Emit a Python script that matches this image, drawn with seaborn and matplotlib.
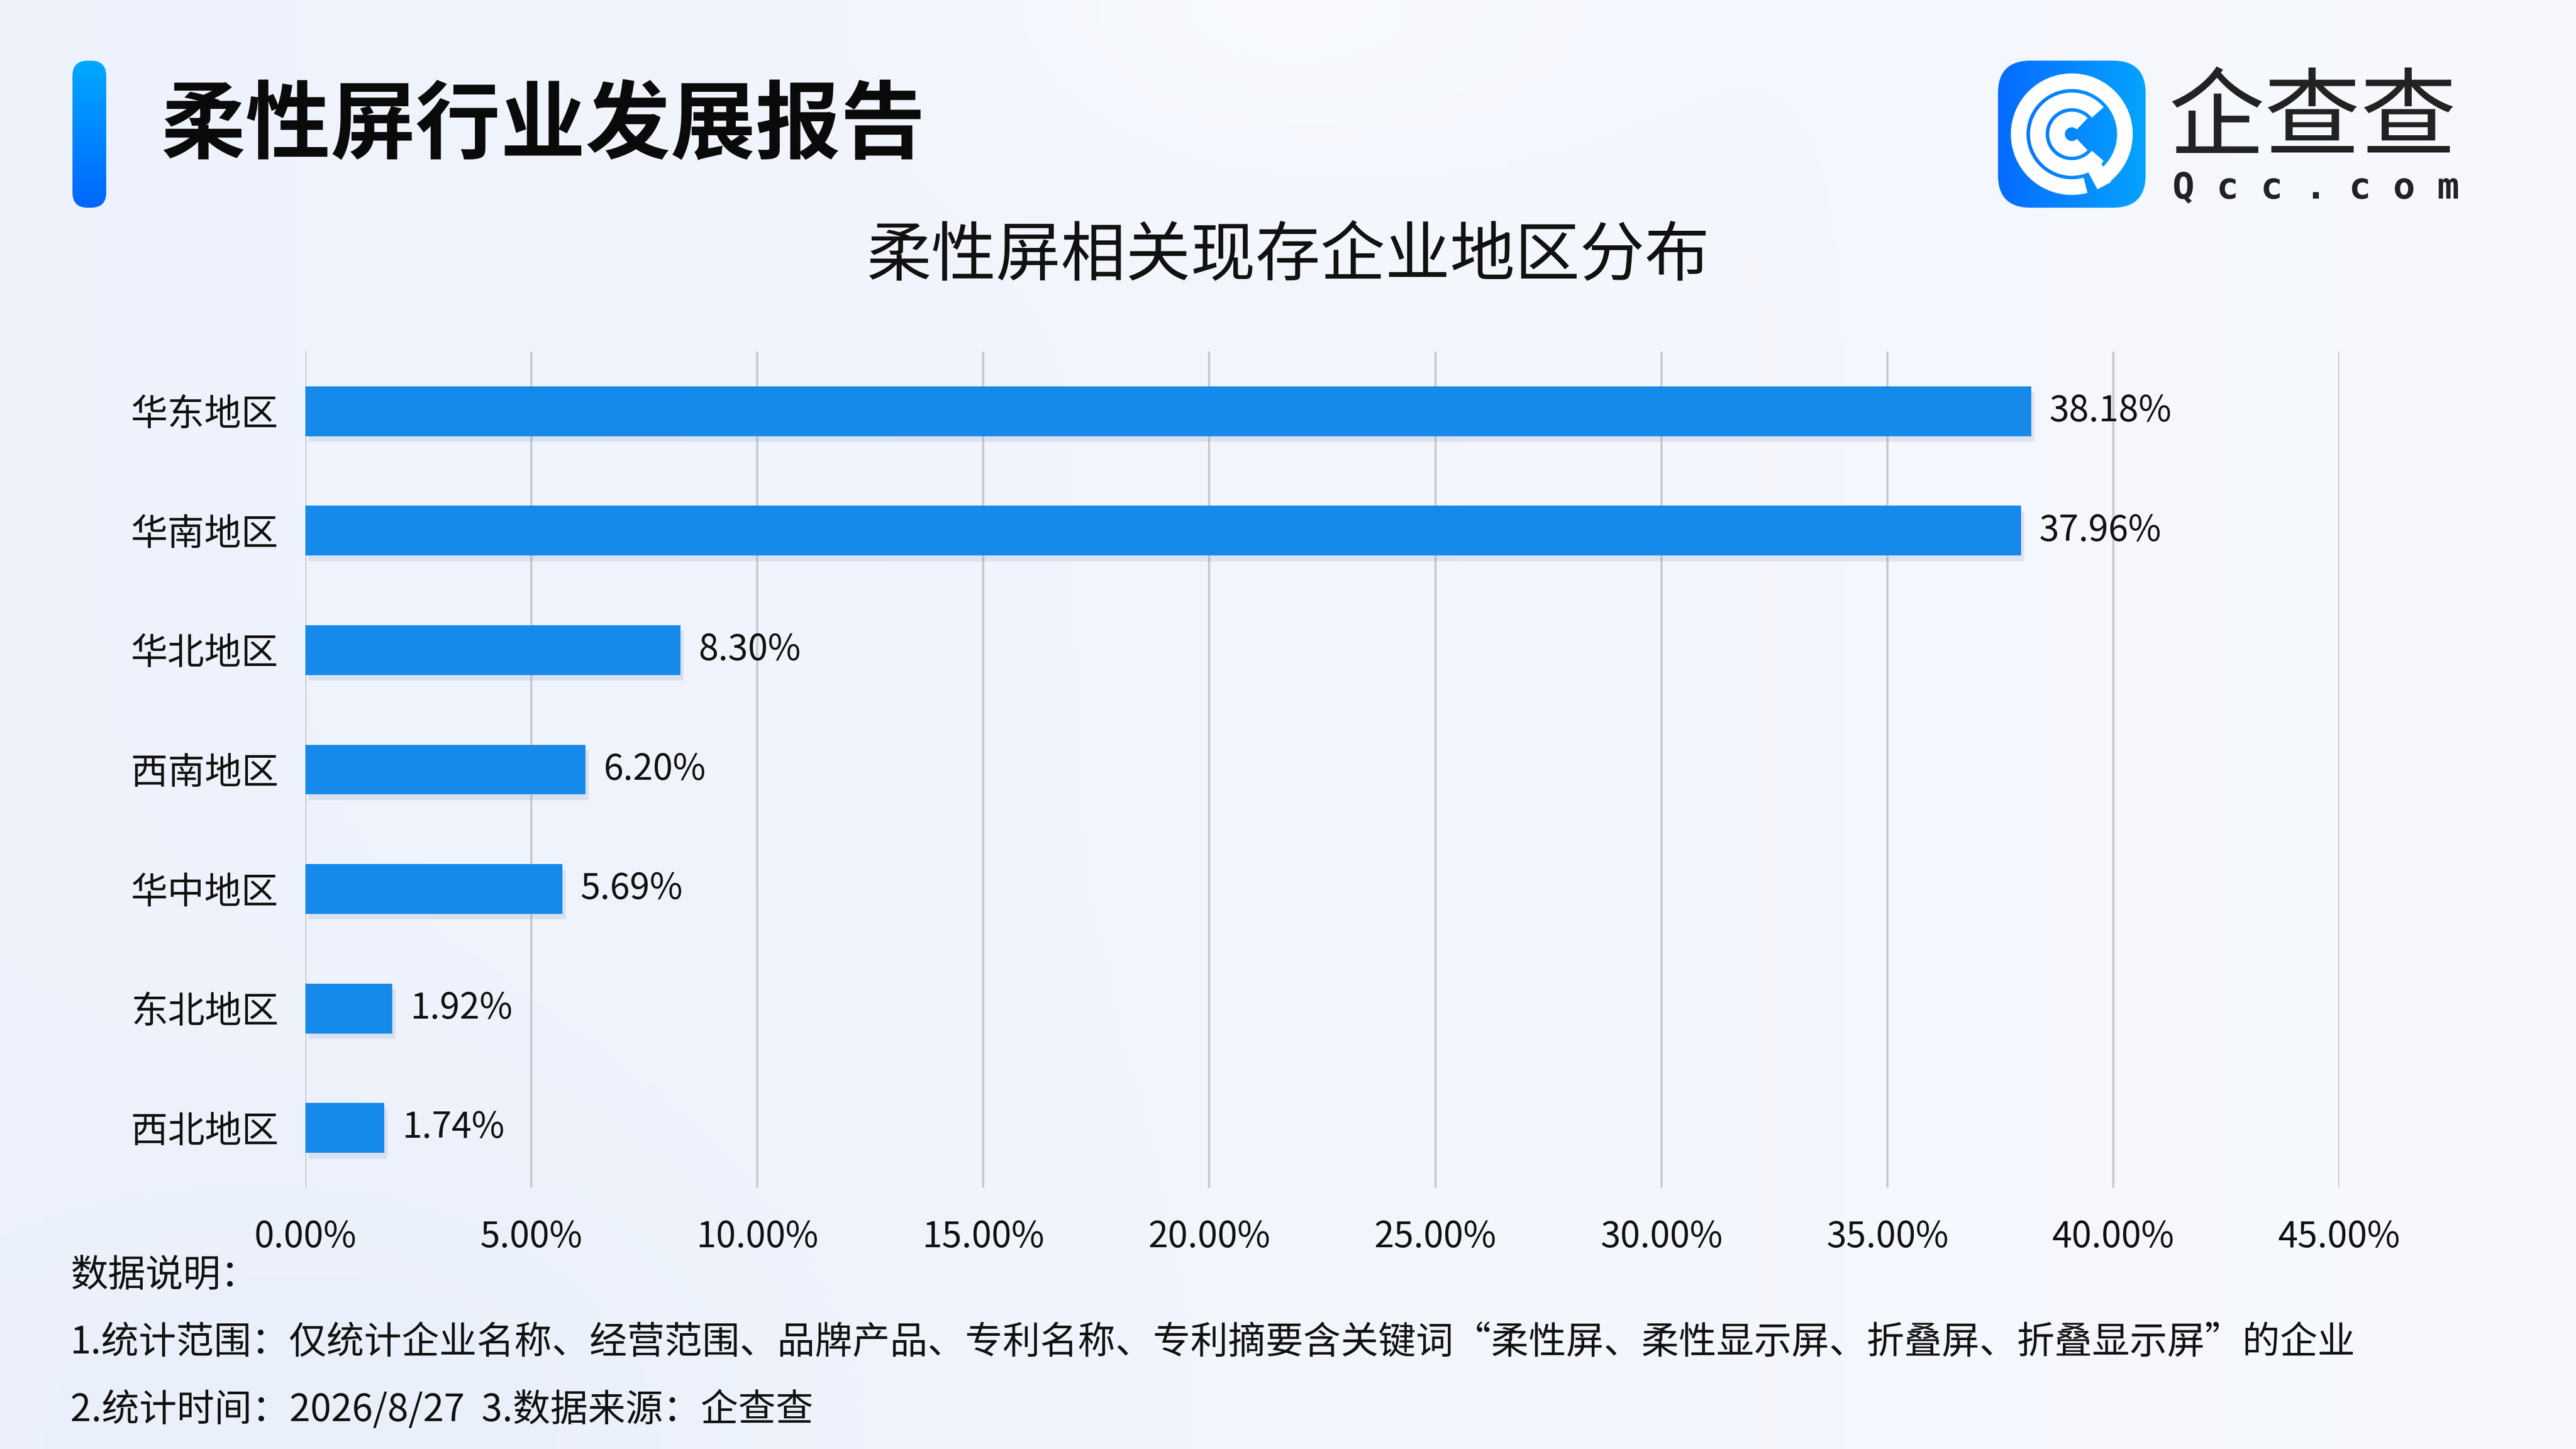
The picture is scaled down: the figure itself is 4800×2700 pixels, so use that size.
import numpy as np
import matplotlib
matplotlib.use('Agg')
import matplotlib.pyplot as plt
import seaborn as sns
from matplotlib.patches import FancyBboxPatch, Arc
from matplotlib import patheffects as pe

# ---------- data ----------
regions = ['华东地区', '华南地区', '华北地区', '西南地区', '华中地区', '东北地区', '西北地区']
shares = [38.18, 37.96, 8.30, 6.20, 5.69, 1.92, 1.74]
xticks = [0, 5, 10, 15, 20, 25, 30, 35, 40, 45]

main_title = '柔性屏行业发展报告'
chart_title = '柔性屏相关现存企业地区分布'
notes = ['数据说明：',
         '1.统计范围：仅统计企业名称、经营范围、品牌产品、专利名称、专利摘要含关键词“柔性屏、柔性显示屏、折叠屏、折叠显示屏”的企业',
         '2.统计时间：2026/8/27  3.数据来源：企查查']

BAR = '#168AEA'
W, H = 4800, 2700

sns.set_theme(style='white')
plt.rcParams['font.family'] = ['Noto Sans CJK SC', 'DejaVu Sans']

fig = plt.figure(figsize=(16, 9), dpi=300)

# ---------- background gradient ----------
bg = fig.add_axes([0, 0, 1, 1], zorder=-10)
gx, gy = np.meshgrid(np.linspace(0, 1, 480), np.linspace(0, 1, 270))
left_c = np.array([0.933, 0.950, 0.988])
right_c = np.array([0.968, 0.976, 0.994])
img = left_c + (right_c - left_c) * gx[..., None]
blob = np.exp(-(((gx - 0.5) / 0.12) ** 2 + ((gy - 0.0) / 0.12) ** 2))
img = img + (np.array([0.975, 0.982, 0.998]) - img) * blob[..., None] * 0.8
tint = np.exp(-(((gx - 0.15) / 0.2) ** 2 + ((gy - 1.0) / 0.25) ** 2))
img = img + (np.array([0.88, 0.92, 0.98]) - img) * tint[..., None] * 0.35
bg.imshow(np.clip(img, 0, 1), aspect='auto', extent=[0, 1, 1, 0])
bg.set_axis_off()

# ---------- accent bar next to title ----------
acc = fig.add_axes([135 / W, 1 - 387 / H, 63 / W, 274 / H])
grad = np.linspace(0, 1, 100)[:, None]
top_c, bot_c = np.array([0.0, 0.66, 1.0]), np.array([0.0, 0.40, 1.0])
acc_img = top_c + (bot_c - top_c) * grad[..., None]
im = acc.imshow(np.repeat(acc_img, 10, axis=1), aspect='auto', extent=[0, 1, 0, 1], origin='upper')
clip = FancyBboxPatch((0, 0), 1, 1, boxstyle='round,pad=0,rounding_size=0.45',
                      mutation_aspect=0.23, transform=acc.transData, facecolor='none', edgecolor='none')
acc.add_patch(clip)
im.set_clip_path(clip)
acc.set_xlim(0, 1)
acc.set_ylim(0, 1)
acc.set_axis_off()

fig.text(300 / W, 1 - 237 / H, main_title, fontsize=38, fontweight='heavy',
         color='#0a0a0a', va='center', ha='left')

# ---------- logo ----------
logo = fig.add_axes([3723 / W, 1 - 387 / H, 275 / W, 274 / H])
logo.set_xlim(0, 1)
logo.set_ylim(0, 1)
lg = np.linspace(0, 1, 100)[None, :]
lc1, lc2 = np.array([0.02, 0.42, 1.0]), np.array([0.02, 0.64, 1.0])
limg = lc1 + (lc2 - lc1) * lg[..., None]
lim = logo.imshow(np.repeat(limg, 10, axis=0), aspect='auto', extent=[0, 1, 0, 1])
lclip = FancyBboxPatch((0, 0), 1, 1, boxstyle='round,pad=0,rounding_size=0.22',
                       transform=logo.transData, facecolor='none', edgecolor='none')
logo.add_patch(lclip)
lim.set_clip_path(lclip)
for r, t1, t2, lw in [(0.72, 300, 285, 7), (0.46, 40, 320, 7), (0.2, 45, 315, 7)]:
    logo.add_patch(Arc((0.5, 0.5), r, r, theta1=t1, theta2=t2, color='white', lw=lw))
logo.plot([0.63, 0.72], [0.32, 0.15], color='white', lw=7, solid_capstyle='butt')
logo.set_axis_off()

fig.text(4040 / W, 1 - 276 / H, '企查查', fontsize=43, color='#222222', va='baseline', ha='left')
fig.text(4048 / W, 1 - 370 / H, 'Q c c . c o m', fontsize=16.4, fontweight='bold',
         color='#222222', va='baseline', ha='left', family='DejaVu Sans Mono')

# ---------- chart title ----------
fig.text(0.5, 1 - 480 / H, chart_title, fontsize=29, color='#111111', ha='center', va='center')

# ---------- bar chart ----------
ax = fig.add_axes([569 / W, 1 - 2213 / H, (4359 - 569) / W, (2213 - 655) / H])
ax.patch.set_alpha(0)
sns.barplot(x=shares, y=regions, orient='h', color=BAR, width=0.417,
            saturation=1, linewidth=0, ax=ax, zorder=3)
for p in ax.patches:
    p.set_linewidth(0)
    p.set_path_effects([pe.SimplePatchShadow(offset=(1.5, -2.5), shadow_rgbFace='#7a8bb0', alpha=0.18),
                        pe.Normal()])
ax.bar_label(ax.containers[0], labels=[f'{v:.2f}%' for v in shares],
             padding=8, fontsize=16, color='#111111')

ax.set_xlim(0, 45)
ax.set_ylim(6.5, -0.5)
ax.set_xticks(xticks)
ax.set_xticklabels([f'{t:.2f}%' for t in xticks])
ax.grid(axis='x', color='#c9cacf', lw=1.0, zorder=0)
ax.grid(axis='y', visible=False)
ax.set_axisbelow(True)
for s in ax.spines.values():
    s.set_visible(False)
ax.tick_params(axis='y', length=0, pad=12, labelsize=16.5, labelcolor='#111111')
ax.tick_params(axis='x', length=0, pad=14, labelsize=16, labelcolor='#111111')
ax.set_xlabel('')
ax.set_ylabel('')

# ---------- notes ----------
for txt, yy in zip(notes, [2377, 2503, 2628]):
    fig.text(131 / W, 1 - yy / H, txt, fontsize=16.8, color='#111111', va='center', ha='left')

fig.savefig('out.png', dpi=300)
